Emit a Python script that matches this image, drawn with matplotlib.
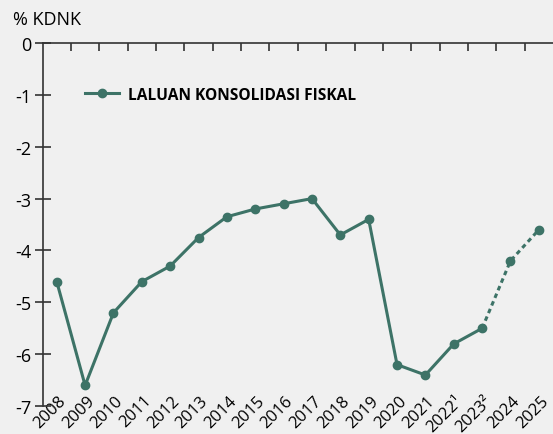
import numpy as np
import matplotlib.pyplot as plt
from matplotlib.transforms import ScaledTranslation

# Laluan konsolidasi fiskal, % KDNK
years = ['2008', '2009', '2010', '2011', '2012', '2013', '2014', '2015', '2016',
         '2017', '2018', '2019', '2020', '2021', '2022¹', '2023²', '2024', '2025']
values = [-4.6, -6.6, -5.2, -4.6, -4.3, -3.75, -3.35, -3.2, -3.1,
          -3.0, -3.7, -3.4, -6.2, -6.4, -5.8, -5.5, -4.2, -3.6]
n_actual = 16  # up to 2023, rest is projection (dashed)

plt.rcParams['font.family'] = ['Open Sans', 'DejaVu Sans']
color = '#3d7367'
bg = '#f0f0f0'
dark = '#333333'

fig = plt.figure(figsize=(5.53, 4.35), dpi=100, facecolor=bg)
ax = fig.add_axes([0.077, 0.064, 0.923, 0.835], facecolor=bg)

x = np.arange(len(years))
ax.plot(x[:n_actual], values[:n_actual], color=color, lw=2.2, marker='o', ms=6,
        label='LALUAN KONSOLIDASI FISKAL', zorder=3)
ax.plot(x[n_actual - 1:], values[n_actual - 1:], color=color, lw=2.2, ls=(0, (1.5, 1.2)),
        marker='o', ms=6, markevery=[1, 2], zorder=3)

ax.set_xlim(-0.5, len(years) - 0.5)
ax.set_ylim(-7, 0)
ax.set_yticks(range(-7, 1))
ax.set_yticklabels([str(v) for v in range(-7, 1)], fontsize=13)
ax.tick_params(axis='y', direction='inout', length=12, width=1.2, color=dark, pad=2)

ax.set_xticks(x)
ax.set_xticklabels(years, rotation=45, ha='right', va='center', rotation_mode='anchor', fontsize=12)
ax.tick_params(axis='x', length=0, pad=-6)
shift = ScaledTranslation(7 / 100, 0, fig.dpi_scale_trans)
for lab in ax.get_xticklabels():
    lab.set_transform(lab.get_transform() + shift)

# ticks on the zero line between categories
ax.set_xticks(np.arange(0.5, len(years) - 0.5), minor=True)
ax.tick_params(axis='x', which='minor', top=True, bottom=False, direction='in',
               length=6, width=1.2, color=dark)

for s in ['right', 'bottom']:
    ax.spines[s].set_visible(False)
for s in ['top', 'left']:
    ax.spines[s].set_color(dark)
    ax.spines[s].set_linewidth(1.2)

ax.legend(loc='center left', bbox_to_anchor=(0.055, 0.857), frameon=False,
          prop={'weight': 'bold', 'size': 11.2}, handlelength=2.2, handletextpad=0.6)

fig.text(0.024, 0.955, '% KDNK', fontsize=13, va='center', ha='left')

fig.savefig('out.png', dpi=100, facecolor=bg)
